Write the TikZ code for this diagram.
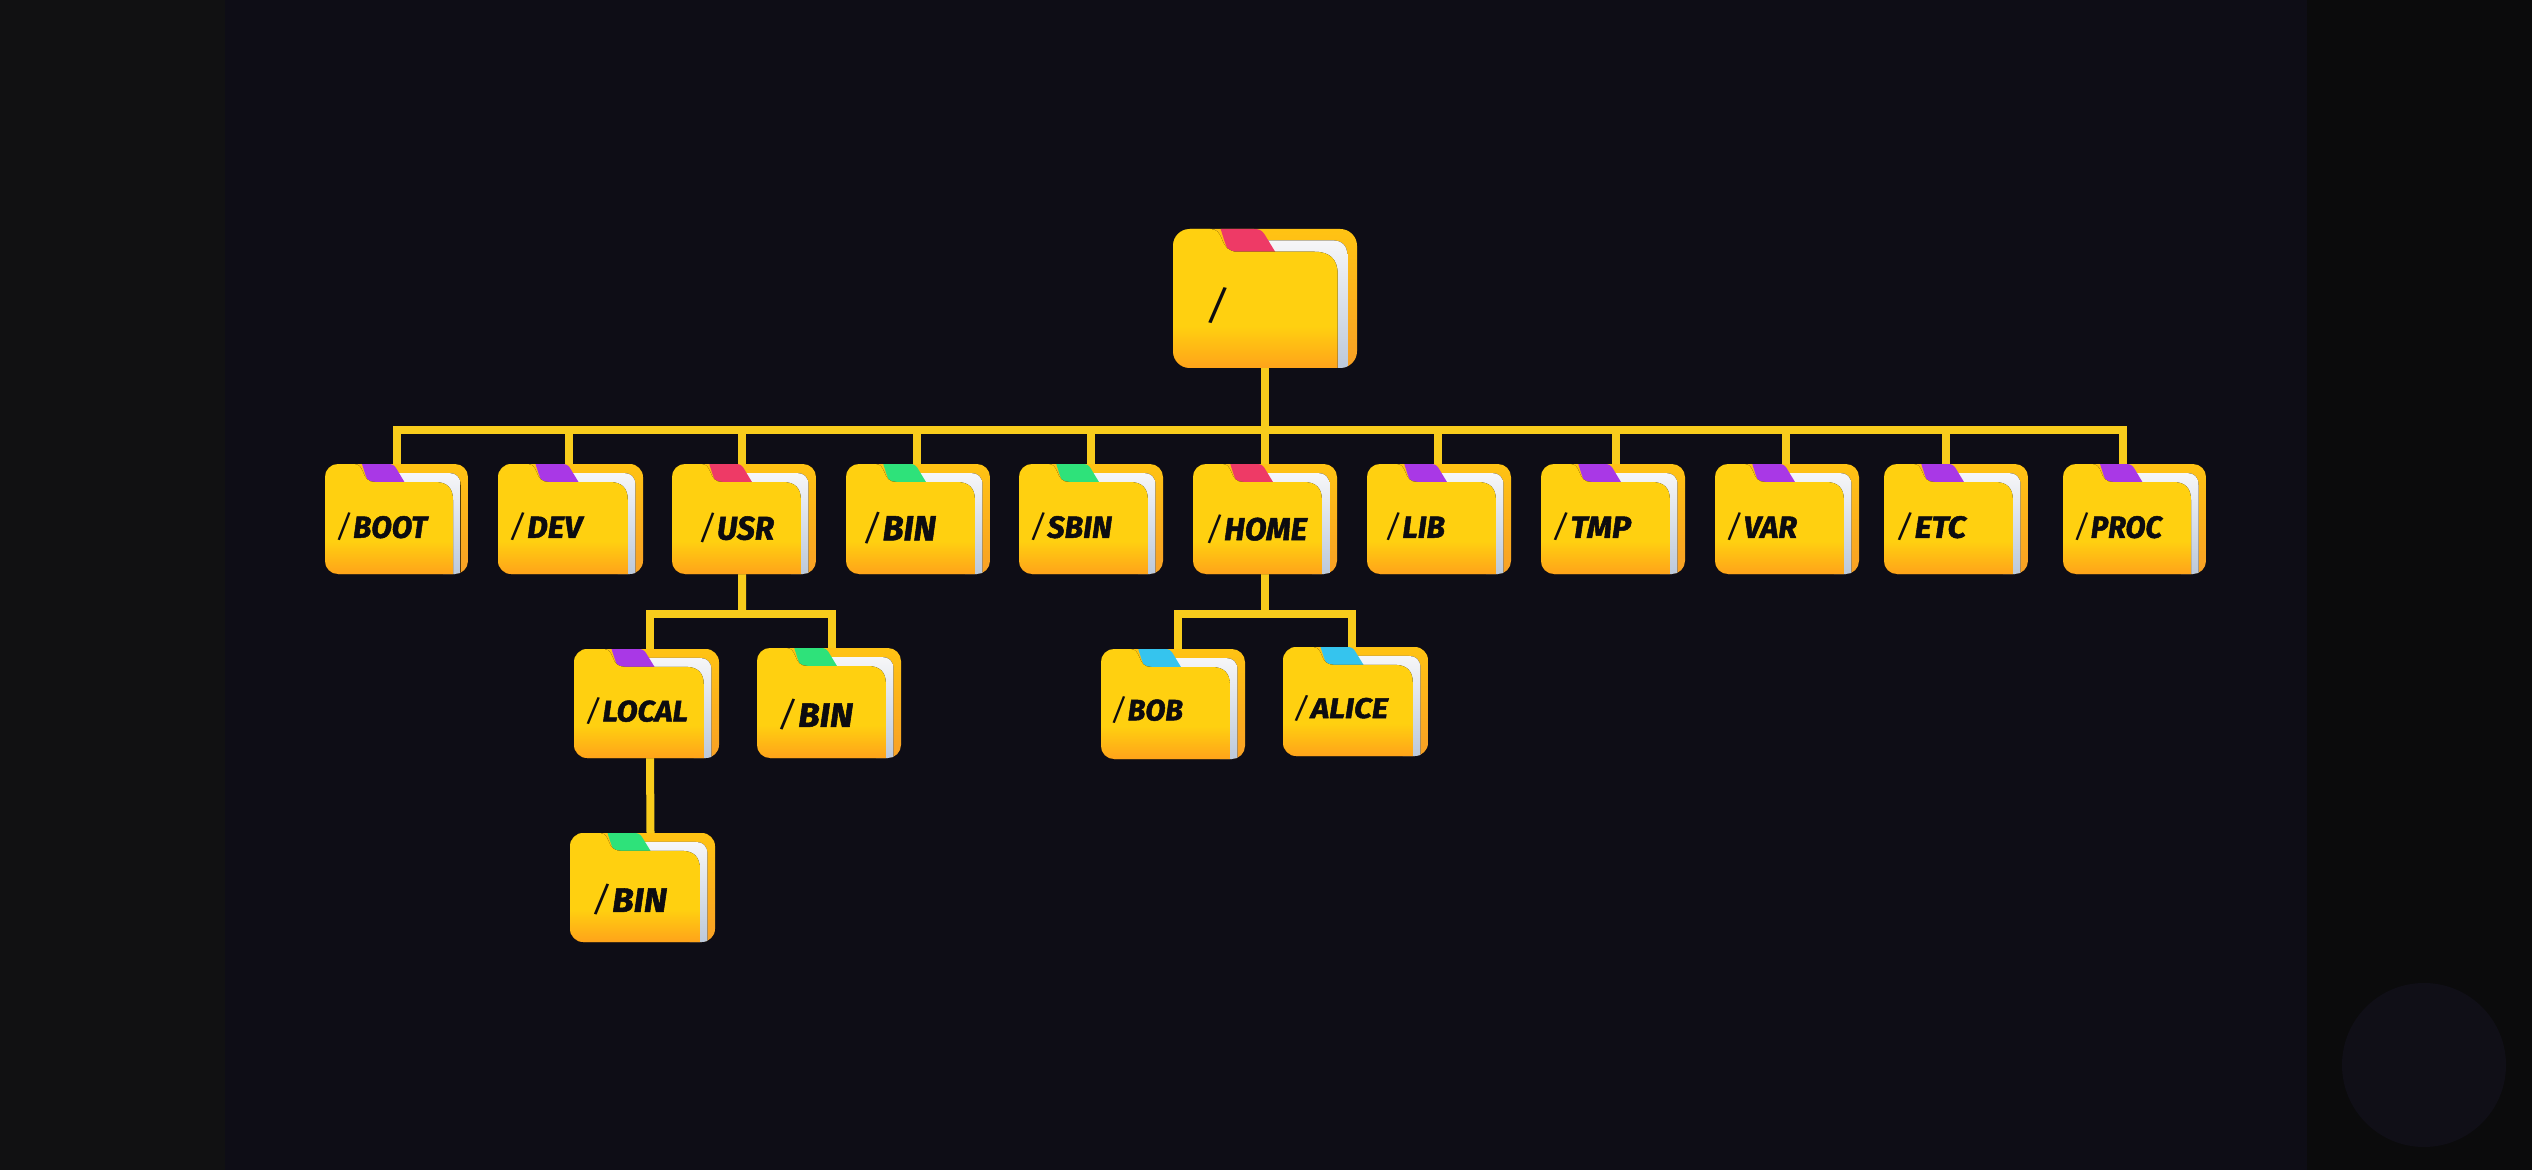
\documentclass[tikz,border=0pt]{standalone}
\usepackage{fontspec}
\usepackage{graphicx}
\setmainfont{Fira Sans}
\newfontfamily\heavyfont{Fira Sans}[ItalicFont=* Bold Italic,ItalicFeatures={FakeBold=1.6}]
\pgfdeclarelayer{back}
\pgfsetlayers{back,main}
\definecolor{outerleft}{HTML}{111112}
\definecolor{outerright}{HTML}{0B0B0C}
\definecolor{panelbg}{HTML}{0E0D16}
\definecolor{circlebg}{HTML}{100F17}
\definecolor{wirecol}{HTML}{F8CC1C}
\definecolor{inkcol}{HTML}{0D0C10}
\definecolor{tabpurple}{HTML}{A938E6}
\definecolor{tabred}{HTML}{EE3A66}
\definecolor{tabgreen}{HTML}{2EE27A}
\definecolor{tabcyan}{HTML}{35C4EE}
\definecolor{bgtop}{HTML}{FFC313}
\definecolor{bgbot}{HTML}{F8A025}
\definecolor{fronttop}{HTML}{FFD010}
\definecolor{frontbot}{HTML}{FFA31A}
\definecolor{papertop}{HTML}{F6F6F8}
\definecolor{paperbot}{HTML}{BCC9DA}
\pgfdeclareverticalshading{frontshade}{100bp}{color(0bp)=(frontbot); color(25bp)=(frontbot); color(40bp)=(fronttop); color(100bp)=(fronttop)}
\tikzset{
  wire/.style={draw=wirecol,line width=0.08cm,line join=miter},
  foldernode/.style={inner sep=0pt,outer sep=0pt,rectangle},
  labelnode/.style={inner sep=0pt,outer sep=0pt,anchor=west,text=inkcol},
}
% name, left, top, w, h, tab
\newcommand{\folderart}[6]{%
  \pgfmathsetmacro{\fx}{#4/143}\pgfmathsetmacro{\fy}{#5/110}
  \begin{scope}[shift={(#2,#3)},xscale=\fx,yscale=\fy]
    \begin{scope}
      \clip[rounded corners={0.13cm*\fx}] (0,0) rectangle (143,110);
      \fill[top color=bgtop,bottom color=bgbot] (0,0) rectangle (143,110);
      \fill[top color=papertop,bottom color=paperbot] (70,9) -- (124,9) .. controls (131,9) and (135.5,13) .. (135.5,21) -- (135.5,110) -- (118,110) -- cycle;
      \fill[#6] (37,0) -- (63,0) .. controls (67,0) and (69,1) .. (71,4) -- (80,19) -- (44,19) .. controls (41,14) and (39,6) .. (37,0) -- cycle;
      \fill[shading=frontshade] (0,0) -- (29,0) .. controls (34,0) and (36,3) .. (38,8) .. controls (40,14) and (43,18) .. (50,18) -- (110,18) .. controls (122,18) and (128,24) .. (128,36) -- (128,110) -- (0,110) -- cycle;
    \end{scope}
  \end{scope}
  \pgfmathsetmacro{\cx}{#2+#4/2}\pgfmathsetmacro{\cy}{#3+#5/2}
  \node[foldernode,minimum width={#4*0.01cm},minimum height={#5*0.01cm}] (#1) at (\cx,\cy) {};
}
\newcommand{\folderlabel}[6]{%
  \pgfmathsetmacro{\tw}{(#4-#3)*0.01}\pgfmathsetmacro{\th}{#6*0.01}
  \node[labelnode] (#1-label) at (#3,#5) {\resizebox*{\tw cm}{\th cm}{\itshape #2}};
}
\newcommand{\slashpart}{{\mdseries/}\kern0.06em}
\newcommand{\lbl}[1]{\slashpart{\heavyfont\itshape #1}}
\begin{document}
\begin{tikzpicture}[x=0.01cm,y=-0.01cm]
\useasboundingbox (0,0) rectangle (2532,1170);
\begin{pgfonlayer}{back}
  \fill[outerleft] (0,0) rectangle (226,1170);
  \fill[outerright] (2307,0) rectangle (2532,1170);
  \fill[panelbg] (225,0) rectangle (2307,1170);
  \fill[circlebg] (2424,1065) circle [radius=82];
\end{pgfonlayer}

\folderart{root}{1173}{229}{184}{139}{tabred}
\folderart{boot}{325}{464}{143}{110}{tabpurple}
\folderart{dev}{498}{464}{145}{110}{tabpurple}
\folderart{usr}{672}{464}{144}{110}{tabred}
\folderart{bin}{846}{464}{144}{110}{tabgreen}
\folderart{sbin}{1019}{464}{144}{110}{tabgreen}
\folderart{home}{1193}{464}{144}{110}{tabred}
\folderart{lib}{1367}{464}{144}{110}{tabpurple}
\folderart{tmp}{1541}{464}{144}{110}{tabpurple}
\folderart{var}{1715}{464}{144}{110}{tabpurple}
\folderart{etc}{1884}{464}{144}{110}{tabpurple}
\folderart{proc}{2063}{464}{143}{110}{tabpurple}
\folderart{local}{574}{649}{145}{109}{tabpurple}
\folderart{binb}{757}{648}{144}{110}{tabgreen}
\folderart{binc}{570}{833}{145}{109}{tabgreen}
\folderart{bob}{1101}{649}{144}{110}{tabcyan}
\folderart{alice}{1283}{647}{145}{109}{tabcyan}

\folderlabel{root}{\mdseries/}{1206}{1228}{306}{36}
\folderlabel{boot}{\lbl{BOOT}}{336}{427}{527}{28}
\folderlabel{dev}{\lbl{DEV}}{509}{582}{527}{28}
\folderlabel{usr}{\lbl{USR}}{699}{774}{528}{30}
\folderlabel{bin}{\lbl{BIN}}{863}{936}{528}{32}
\folderlabel{sbin}{\lbl{SBIN}}{1030}{1112}{527}{28}
\folderlabel{home}{\lbl{HOME}}{1206}{1307}{529}{29}
\folderlabel{lib}{\lbl{LIB}}{1385}{1445}{527}{28}
\folderlabel{tmp}{\lbl{TMP}}{1552}{1631}{527}{28}
\folderlabel{var}{\lbl{VAR}}{1726}{1797}{527}{28}
\folderlabel{etc}{\lbl{ETC}}{1896}{1966}{527}{28}
\folderlabel{proc}{\lbl{PROC}}{2074}{2162}{527}{28}
\folderlabel{local}{\lbl{LOCAL}}{585}{688}{711}{27}
\folderlabel{binb}{\lbl{BIN}}{778}{853}{715}{31}
\folderlabel{binc}{\lbl{BIN}}{592}{667}{900}{31}
\folderlabel{bob}{\lbl{BOB}}{1111}{1183}{710}{27}
\folderlabel{alice}{\lbl{ALICE}}{1293}{1388}{708}{26}

\coordinate (bus) at (1265,430);
\coordinate (usrbus) at (742,614);
\coordinate (homebus) at (1265,614);
\begin{pgfonlayer}{back}
  \draw[wire] (root.south) -- (bus);
  \draw[wire] (bus) -| (boot.north);
  \draw[wire] (bus) -| ([xshift=-0.015cm]dev.north);
  \draw[wire] (bus) -| ([xshift=-0.02cm]usr.north);
  \draw[wire] (bus) -| ([xshift=-0.01cm]bin.north);
  \draw[wire] (bus) -| (sbin.north);
  \draw[wire] (bus) -| (home.north);
  \draw[wire] (bus) -| ([xshift=-0.01cm]lib.north);
  \draw[wire] (bus) -| ([xshift=0.03cm]tmp.north);
  \draw[wire] (bus) -| ([xshift=-0.01cm]var.north);
  \draw[wire] (bus) -| ([xshift=-0.1cm]etc.north);
  \draw[wire] (bus) -| ([xshift=-0.115cm]proc.north);
  \draw[wire] ([xshift=-0.02cm]usr.south) -- (usrbus);
  \draw[wire] (usrbus) -| ([xshift=0.035cm]local.north);
  \draw[wire] (usrbus) -| ([xshift=0.03cm]binb.north);
  \draw[wire] ([xshift=0.035cm]local.south) -- ([xshift=0.08cm]binc.north);
  \draw[wire] (home.south) -- (homebus);
  \draw[wire] (homebus) -| ([xshift=0.05cm]bob.north);
  \draw[wire] (homebus) -| ([xshift=-0.035cm]alice.north);
\end{pgfonlayer}
\end{tikzpicture}
\end{document}
